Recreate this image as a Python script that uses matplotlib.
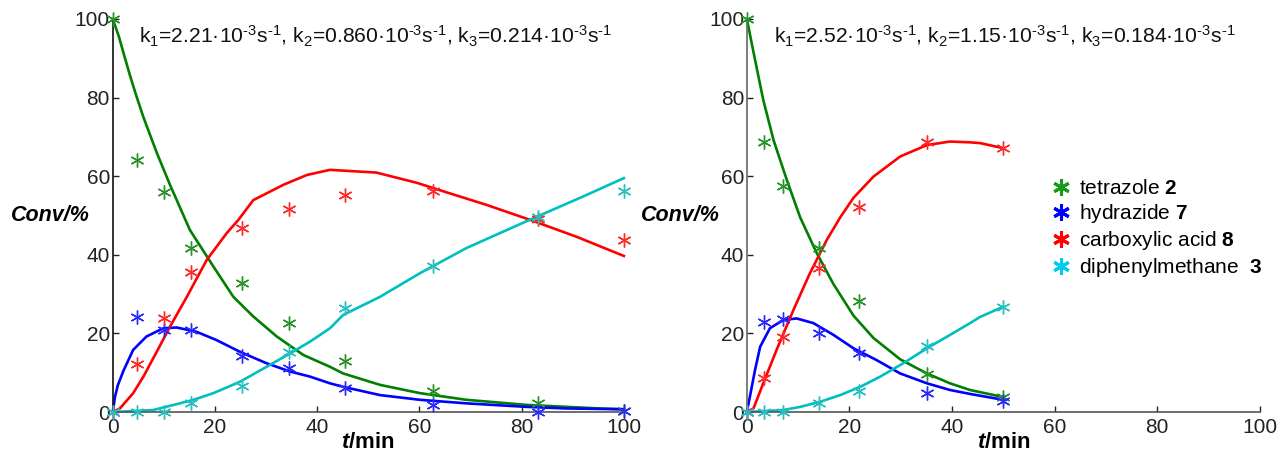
import matplotlib
matplotlib.use("Agg")
import matplotlib.pyplot as plt
from matplotlib.lines import Line2D

plt.rcParams['font.family'] = ['Liberation Sans', 'DejaVu Sans']
plt.rcParams['mathtext.fontset'] = 'custom'
plt.rcParams['mathtext.rm'] = 'Liberation Sans'
plt.rcParams['mathtext.it'] = 'Liberation Sans:italic'
plt.rcParams['mathtext.bf'] = 'Liberation Sans:bold'
plt.rcParams['mathtext.bfit'] = 'Liberation Sans:italic:bold'

# ---------------- data: left experiment ----------------
tL = [0, 4.7, 10, 15.3, 25.2, 34.5, 45.4, 62.6, 83.2, 100]
tetL = [100, 64, 56, 41.6, 32.9, 22.6, 13.1, 5.4, 2.2, 0.3]
hydL = [0, 24.1, 20.9, 20.9, 14.2, 11.1, 6.0, 1.8, 0.1, 0.3]
acidL = [0, 12.2, 23.8, 35.5, 46.7, 51.6, 55.2, 56.1, 49.0, 43.8]
dpmL = [0, 0, 0.1, 2.2, 6.7, 15.2, 26.4, 37.2, 49.6, 56.1]

# model curves, left
tetL_t = [0, 1.2, 2.4, 3.4, 4.6, 6.0, 8.6, 11.2, 15.1, 19.7, 23.6, 27.5, 32.1, 37.3, 42.5, 45.1, 52.3, 60.1, 69.2, 81, 95.3, 100]
tetL_y = [100, 95.5, 90.0, 85.5, 80.5, 75.0, 66.0, 57.8, 46.3, 37.0, 29.3, 24.3, 19.2, 14.5, 11.5, 9.8, 6.9, 4.8, 3.1, 1.8, 0.9, 0.7]
hydL_t = [0, 0.45, 1.0, 2.1, 4.0, 6.6, 9.9, 12.5, 16.4, 20.3, 24.9, 30.1, 34.7, 38.6, 42.5, 45.1, 52.3, 60.1, 69.2, 81, 88.8, 100]
hydL_y = [0, 3.9, 6.8, 10.5, 15.8, 19.2, 21.3, 21.5, 20.4, 18.3, 15.3, 12.4, 10.3, 9.0, 7.3, 6.4, 4.3, 3.1, 2.2, 1.3, 0.9, 0.7]
acidL_t = [0, 1.4, 4.0, 6.0, 8.6, 11.2, 14.5, 18.4, 22.3, 24.6, 27.5, 33.4, 38.0, 42.5, 51.6, 59.5, 66, 73.1, 81.6, 90.7, 100]
acidL_y = [0, 0.9, 4.8, 9.0, 15.3, 21.7, 29.3, 38.7, 45.5, 48.9, 53.9, 57.8, 60.3, 61.6, 60.9, 58.3, 55.6, 52.7, 48.9, 44.6, 39.7]
dpmL_t = [0, 7.9, 11.9, 15.8, 19.7, 24.9, 30.1, 34.7, 38.6, 42.5, 45.1, 52.3, 60.1, 69.2, 81.6, 92, 100]
dpmL_y = [0, 0.5, 1.8, 3.1, 4.8, 7.7, 11.5, 14.9, 17.9, 21.3, 24.7, 29.3, 35.3, 41.7, 48.9, 54.8, 59.5]

# ---------------- data: right experiment ----------------
tR = [0, 3.4, 7.1, 14.0, 21.8, 35.1, 50]
tetR = [100, 68.8, 57.5, 41.6, 28.2, 9.7, 3.7]
hydR = [0, 23.0, 23.6, 20.2, 15.1, 4.9, 2.8]
acidR = [0, 8.6, 19.2, 36.6, 52.1, 68.8, 67.1]
dpmR = [0, 0, 0, 2.2, 5.3, 16.8, 26.6]

tetR_t = [0, 1.6, 3.2, 5.2, 7.8, 10.4, 13.6, 16.9, 20.8, 24.7, 29.9, 35.1, 39.6, 43.5, 50]
tetR_y = [100, 89.6, 79.4, 69.2, 59.0, 49.5, 40.5, 32.5, 24.5, 18.8, 13.4, 9.8, 7.3, 5.6, 3.8]
hydR_t = [0, 0.6, 1.6, 2.6, 4.5, 7.1, 9.7, 13.0, 16.9, 20.8, 25.3, 29.9, 35.1, 39.6, 43.5, 50]
hydR_y = [0, 3.9, 10.7, 16.6, 21.3, 23.4, 23.8, 22.6, 19.6, 16.2, 13.2, 9.8, 7.3, 5.6, 4.6, 3.1]
acidR_t = [0, 1.3, 3.2, 5.8, 9.1, 12.3, 15.6, 18.2, 20.8, 24.7, 29.9, 35.1, 39.6, 43.5, 45.5, 50]
acidR_y = [0, 0.9, 7.3, 15.8, 26.0, 35.3, 43.8, 49.5, 54.5, 59.9, 65.0, 67.9, 68.8, 68.6, 68.4, 67.1]
dpmR_t = [0, 7.1, 10.4, 14.3, 18.2, 22.1, 26, 30.5, 35.1, 39.6, 43.5, 45.5, 50]
dpmR_y = [0, 0.5, 1.3, 2.6, 4.3, 6.4, 9.0, 12.4, 16.2, 19.6, 22.6, 24.2, 26.8]

series_names = ['tetrazole $\\mathbf{2}$', 'hydrazide $\\mathbf{7}$',
                'carboxylic acid $\\mathbf{8}$', 'diphenylmethane  $\\mathbf{3}$']
line_colors = ['#007f00', '#0000ff', '#ff0000', '#00bfbf']
marker_colors = ['#2a922a', '#2a2aff', '#ff2a2a', '#2abfbf']
legend_colors = ['#1a9a1a', '#0000ff', '#ff0000', '#00ccee']

k_texts = ['k$_1$=2.21·10$^{\\text{-}3}$s$^{\\text{-}1}$, k$_2$=0.860·10$^{\\text{-}3}$s$^{\\text{-}1}$, k$_3$=0.214·10$^{\\text{-}3}$s$^{\\text{-}1}$',
           'k$_1$=2.52·10$^{\\text{-}3}$s$^{\\text{-}1}$, k$_2$=1.15·10$^{\\text{-}3}$s$^{\\text{-}1}$, k$_3$=0.184·10$^{\\text{-}3}$s$^{\\text{-}1}$']

xticks = [0, 20, 40, 60, 80, 100]
yticks = [0, 20, 40, 60, 80, 100]

fig = plt.figure(figsize=(12.81, 4.55), dpi=100)
axL = fig.add_axes([0.088, 0.0945, 0.399, 0.864])
axR = fig.add_axes([0.583, 0.0945, 0.4005, 0.864])

ast = (6, 2, 0)

def draw(ax, t, pts, curves, ktext, spine_col):
    for i, (cx, cy) in enumerate(curves):
        ax.plot(cx, cy, color=line_colors[i], lw=1.9, clip_on=False, zorder=2)
    for i, p in enumerate(pts):
        ax.plot(t, p, linestyle='none', marker=ast, ms=10, mew=1.0,
                color=marker_colors[i], clip_on=False, zorder=3)
    ax.set_xlim(0, 100)
    ax.set_ylim(0, 100)
    ax.set_xticks(xticks)
    ax.set_yticks(yticks)
    ax.tick_params(direction='in', length=4, width=1, labelsize=15, pad=2,
                   colors='#222222')
    ax.tick_params(axis='x', pad=4)
    for s in ['top', 'right']:
        ax.spines[s].set_visible(False)
    ax.spines['left'].set_color(spine_col)
    ax.spines['bottom'].set_color('#555555')
    ax.spines['left'].set_linewidth(1.2)
    ax.spines['bottom'].set_linewidth(1.2)
    ax.text(0.052, 0.955, ktext, transform=ax.transAxes, fontsize=15.2,
            ha='left', va='center', color='#111111')
    ax.set_xlabel('$\\mathbfit{t}$/min', fontsize=16, fontweight='bold', labelpad=-3)
    ax.set_ylabel('Conv/%', fontsize=15.5, fontweight='bold', style='italic',
                  rotation=0, ha='left', va='center')

draw(axL, tL, [tetL, hydL, acidL, dpmL],
     [(tetL_t, tetL_y), (hydL_t, hydL_y), (acidL_t, acidL_y), (dpmL_t, dpmL_y)],
     k_texts[0], '#111111')
draw(axR, tR, [tetR, hydR, acidR, dpmR],
     [(tetR_t, tetR_y), (hydR_t, hydR_y), (acidR_t, acidR_y), (dpmR_t, dpmR_y)],
     k_texts[1], '#666666')

axL.yaxis.set_label_coords(-0.2, 0.5)
axR.yaxis.set_label_coords(-0.207, 0.5)

handles = [Line2D([], [], linestyle='none', marker=ast, ms=12, mew=2.2,
                  color=legend_colors[i]) for i in range(4)]
fig.legend(handles, series_names, loc='upper left',
           bbox_to_anchor=(0.814, 0.625), frameon=False, fontsize=15,
           handletextpad=0.35, labelspacing=0.2, handlelength=1.0,
           borderaxespad=0)

fig.savefig('out.png', dpi=100)
